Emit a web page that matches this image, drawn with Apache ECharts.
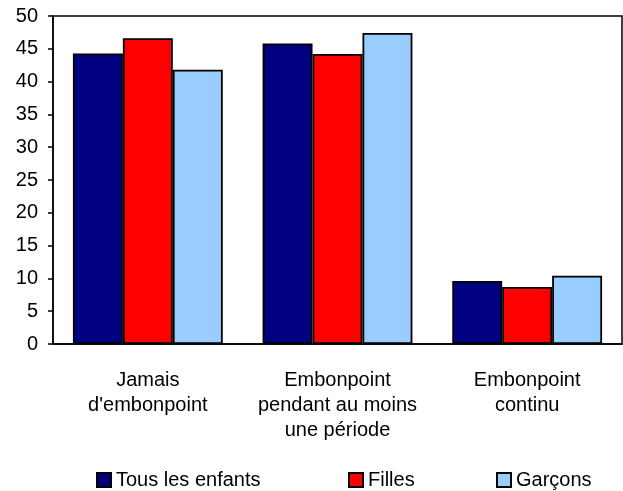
<!DOCTYPE html>
<html>
<head>
<meta charset="utf-8">
<script src="https://cdn.jsdelivr.net/npm/echarts@6/dist/echarts.min.js"></script>
<style>
  html, body { margin: 0; padding: 0; background: #fff; }
  #main { width: 623px; height: 491px; }
</style>
</head>
<body>
<div id="main"></div>
<script>
// categories (x axis)
var categories = ['Jamais\nd\'embonpoint', 'Embonpoint\npendant au moins\nune période', 'Embonpoint\ncontinu'];
// series values
var tousLesEnfants = [44.3, 45.8, 9.6];
var filles = [46.6, 44.2, 8.7];
var garcons = [41.8, 47.4, 10.4];
var seriesNames = ['Tous les enfants', 'Filles', 'Garçons'];

var font = 'Liberation Sans, Arial, sans-serif';
var fs = 20;
var myChart = echarts.init(document.getElementById('main'));

function barSeries(name, data, color) {
  return {
    name: name,
    type: 'bar',
    data: data,
    barGap: '0%',
    barCategoryGap: '21%',
    itemStyle: { color: color, borderColor: '#000', borderWidth: 1.8 }
  };
}

// one legend per item so each sits where it does in the original
var legendLeft = [91, 343, 491];
var legends = seriesNames.map(function (n, i) {
  return {
    data: [n],
    left: legendLeft[i],
    top: 465,
    itemWidth: 14,
    itemHeight: 14,
    itemGap: 0,
    icon: 'rect',
    textStyle: { fontSize: fs, color: '#000', fontFamily: font }
  };
});

var option = {
  animation: false,
  textStyle: { fontFamily: font },
  grid: {
    left: 53, right: 1, top: 16, bottom: 147,
    show: true, borderColor: '#000', borderWidth: 1.5
  },
  legend: legends,
  xAxis: {
    type: 'category',
    data: categories,
    axisLine: { lineStyle: { color: '#000', width: 1.5 } },
    axisTick: { show: false },
    axisLabel: { interval: 0, color: '#000', fontSize: fs, lineHeight: 25, margin: 24, fontFamily: font }
  },
  yAxis: {
    type: 'value',
    min: 0, max: 50, interval: 5,
    splitLine: { show: false },
    axisLine: { show: true, lineStyle: { color: '#000', width: 1.5 } },
    axisTick: { show: true, length: 5, lineStyle: { color: '#000', width: 1.5 } },
    axisLabel: { color: '#000', fontSize: fs, margin: 15, fontFamily: font }
  },
  series: [
    barSeries(seriesNames[0], tousLesEnfants, '#000080'),
    barSeries(seriesNames[1], filles, '#FF0000'),
    barSeries(seriesNames[2], garcons, '#99CCFF')
  ]
};

myChart.setOption(option);
</script>
</body>
</html>
